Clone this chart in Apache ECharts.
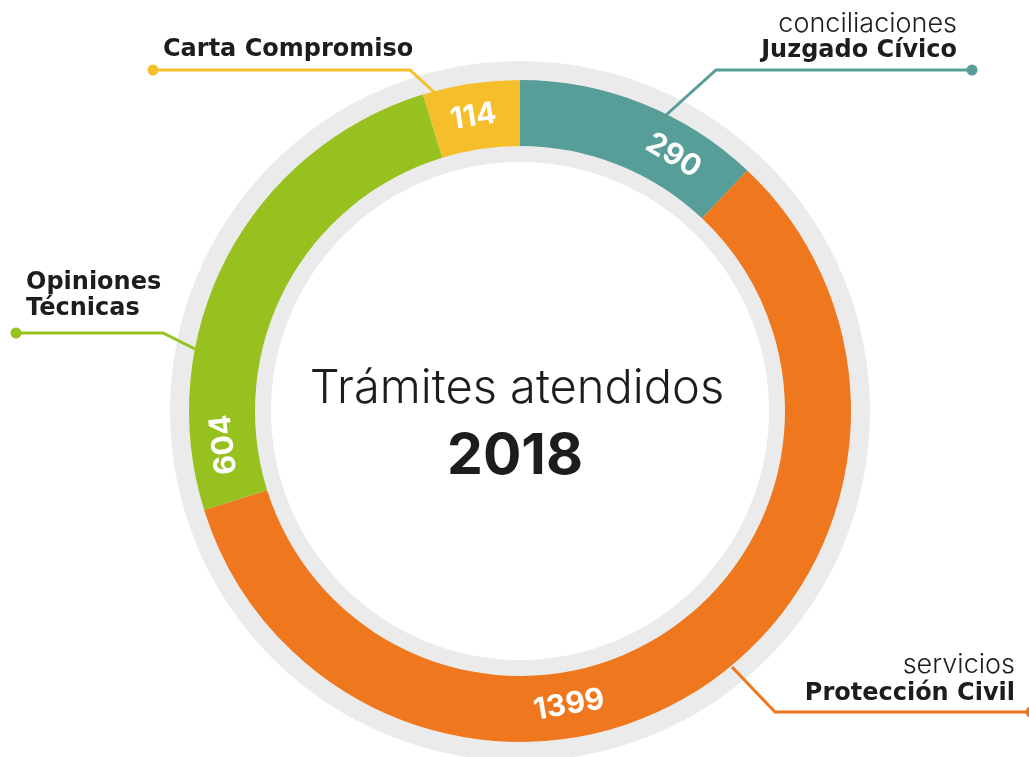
<!DOCTYPE html>
<html>
<head>
<meta charset="utf-8">
<script src="https://cdn.jsdelivr.net/npm/echarts@6/dist/echarts.min.js"></script>
<style>
html,body{margin:0;padding:0;background:#fff;}
#chart{width:1029px;height:757px;}
</style>
</head>
<body>
<div id="chart"></div>
<script>
// ---- data ----
const categories = ['Juzgado Cívico', 'Protección Civil', 'Opiniones Técnicas', 'Carta Compromiso'];
const values = [290, 1399, 604, 114];
const prefixes = ['conciliaciones', 'servicios', '', ''];
const colors = ['#579d98', '#ef771e', '#97c11f', '#f7be2c'];
const labelAngles = [31, 170.5, 263.5, 351]; // where each value label sits (deg, clockwise from top)
const titleLine1 = 'Trámites atendidos';
const titleLine2 = '2018';

// ---- layout ----
const CX = 520, CY = 411;
const R_IN = 265, R_OUT = 331, R_LABEL = 298;
const FONT = 'Inter, Lato, "Noto Sans", sans-serif';
const BOLDFONT = '"DejaVu Sans", Inter, sans-serif';
const DARK = '#1d1d1b';

const chart = echarts.init(document.getElementById('chart'), null, {renderer: 'canvas'});

function callout(color, pts, dotAt) {
  return [
    {type: 'polyline', silent: true, z: 100, shape: {points: pts},
     style: {stroke: color, lineWidth: 3, fill: null}},
    {type: 'circle', silent: true, z: 100, shape: {cx: dotAt[0], cy: dotAt[1], r: 5.5},
     style: {fill: color}}
  ];
}
function txt(text, x, y, align, weight, size, fam) {
  return {type: 'text', silent: true, z: 100,
    style: {text: text, x: x, y: y, textAlign: align, textVerticalAlign: 'middle',
      fill: DARK, font: weight + ' ' + size + 'px ' + (fam || FONT)}};
}

const graphics = [].concat(
  // Juzgado Cívico
  callout(colors[0], [[665, 116], [716, 70], [972, 70]], [972, 70]),
  [txt(prefixes[0], 957, 24, 'right', 300, 27), txt(categories[0], 957, 51, 'right', 700, 24, BOLDFONT)],
  // Protección Civil
  callout(colors[1], [[732, 667], [775, 712], [1029, 712]], [1031, 712]),
  [txt(prefixes[1], 1015, 665, 'right', 300, 27), txt(categories[1], 1015, 694, 'right', 700, 24, BOLDFONT)],
  // Opiniones Técnicas
  callout(colors[2], [[16, 333], [163, 333], [195, 349]], [16, 333]),
  [txt('Opiniones', 26, 283, 'left', 700, 24, BOLDFONT), txt('Técnicas', 26, 309, 'left', 700, 24, BOLDFONT)],
  // Carta Compromiso
  callout(colors[3], [[153, 70], [410, 70], [435, 93]], [153, 70]),
  [txt(categories[3], 163, 50, 'left', 700, 24, BOLDFONT)],
  // centre title
  [txt(titleLine1, 517, 389, 'center', 300, 47), txt(titleLine2, 515, 457, 'center', 700, 57)]
);

const option = {
  backgroundColor: '#ffffff',
  animation: false,
  series: [
    {
      type: 'pie',
      silent: true,
      center: [CX, CY],
      radius: [249, 350],
      label: {show: false},
      labelLine: {show: false},
      itemStyle: {color: '#ebebeb'},
      data: [{value: 1, name: 'fondo'}],
      z: 1
    },
    {
      type: 'pie',
      silent: true,
      center: [CX, CY],
      radius: [R_IN, R_OUT],
      startAngle: 90,
      clockwise: true,
      avoidLabelOverlap: false,
      z: 2,
      data: categories.map((c, i) => ({name: c, value: values[i], itemStyle: {color: colors[i]}})),
      label: {
        show: true,
        position: 'inside',
        formatter: '{c}',
        color: '#ffffff',
        fontFamily: FONT,
        fontWeight: 'bold',
        fontSize: 30
      },
      labelLine: {show: false},
      labelLayout: function (p) {
        const th = labelAngles[p.dataIndex];
        const a = th * Math.PI / 180;
        let rot = -th;
        while (rot <= -180) rot += 360;
        while (rot > 180) rot -= 360;
        if (rot > 120) rot -= 180;
        if (rot < -120) rot += 180;
        return {
          x: CX + R_LABEL * Math.sin(a),
          y: CY - R_LABEL * Math.cos(a),
          rotate: rot,
          align: 'center',
          verticalAlign: 'middle'
        };
      }
    }
  ],
  graphic: graphics
};
chart.setOption(option);
</script>
</body>
</html>
